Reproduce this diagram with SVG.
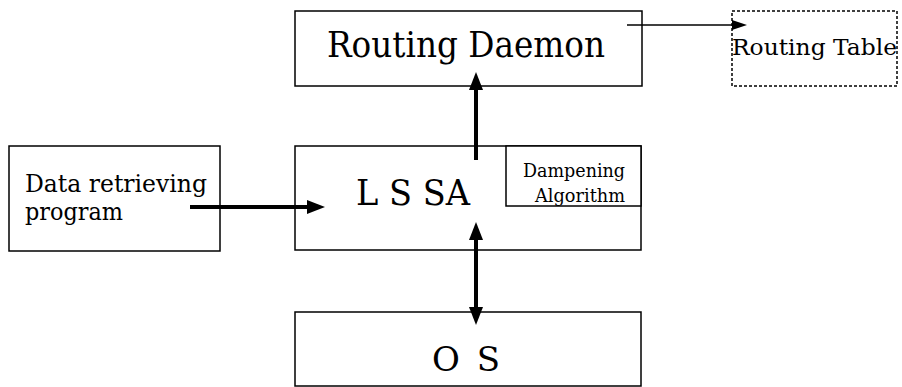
<svg xmlns="http://www.w3.org/2000/svg" width="902" height="387" viewBox="0 0 902 387">
<style>
.box{fill:#fff;stroke:#000;stroke-width:1.5}
.dash{fill:none;stroke:#000;stroke-width:1.5;stroke-dasharray:3 2}
text{font-family:"DejaVu Serif","Liberation Serif",serif;fill:#000}
.thick{stroke:#000;stroke-width:4;fill:none}
.thin{stroke:#000;stroke-width:1.5;fill:none}
</style>
<defs>
<marker id="big" markerUnits="userSpaceOnUse" markerWidth="18" markerHeight="14" refX="0" refY="7" orient="auto-start-reverse">
<path d="M0,0 L18,7 L0,14 z" fill="#000"/>
</marker>
<marker id="small" markerUnits="userSpaceOnUse" markerWidth="15" markerHeight="10" refX="0" refY="5" orient="auto">
<path d="M0,0 L15,5 L0,10 z" fill="#000"/>
</marker>
</defs>
<g id="routing-daemon">
<rect class="box" x="295" y="11" width="347" height="75"/>
<text x="327" y="57" font-size="35" textLength="278" lengthAdjust="spacingAndGlyphs">Routing Daemon</text>
</g>
<g id="routing-table">
<rect class="dash" x="732" y="11" width="165" height="75"/>
<text x="732" y="55" font-size="23" textLength="165" lengthAdjust="spacingAndGlyphs">Routing Table</text>
</g>
<g id="data-retrieving">
<rect class="box" x="9" y="146" width="211" height="105"/>
<text x="25" y="192" font-size="24" textLength="182" lengthAdjust="spacingAndGlyphs">Data retrieving</text>
<text x="25" y="220" font-size="24" textLength="98" lengthAdjust="spacingAndGlyphs">program</text>
</g>
<g id="lssa">
<rect class="box" x="295" y="146" width="346" height="104"/>
<text x="356" y="205" font-size="35" textLength="114" lengthAdjust="spacingAndGlyphs">L S SA</text>
</g>
<g id="dampening">
<rect class="box" x="506" y="146" width="135" height="60"/>
<text x="523" y="177" font-size="18" textLength="102" lengthAdjust="spacingAndGlyphs">Dampening</text>
<text x="535" y="202" font-size="18" textLength="90" lengthAdjust="spacingAndGlyphs">Algorithm</text>
</g>
<g id="os">
<rect class="box" x="295" y="312" width="346" height="74"/>
<text x="432" y="371" font-size="34" textLength="68" lengthAdjust="spacing">O S</text>
</g>
<g id="connectors">
<line class="thin" x1="627" y1="25" x2="732" y2="25" marker-end="url(#small)"/>
<line class="thick" x1="190" y1="207" x2="307" y2="207" marker-end="url(#big)"/>
<line class="thick" x1="476" y1="160" x2="476" y2="90" marker-end="url(#big)"/>
<line class="thick" x1="476" y1="240" x2="476" y2="307" marker-start="url(#big)" marker-end="url(#big)"/>
</g>
</svg>
